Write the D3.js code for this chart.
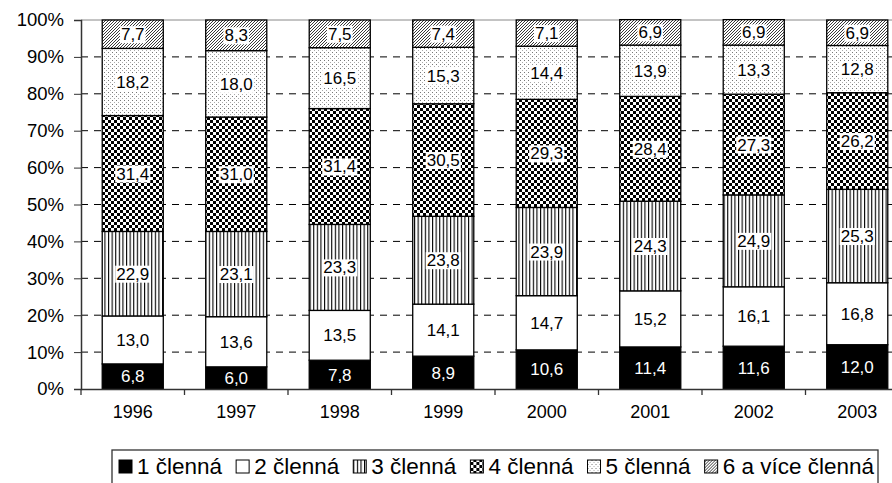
<!DOCTYPE html>
<html>
<head>
<meta charset="utf-8">
<script src="https://cdn.jsdelivr.net/npm/d3@7"></script>
<style>
body{margin:0;background:#fff;}
text{font-family:"Liberation Sans",Arial,sans-serif;}
</style>
</head>
<body>
<div id="chart"></div>
<script>
var years = ["1996","1997","1998","1999","2000","2001","2002","2003"];
var s1 = [6.8,6.0,7.8,8.9,10.6,11.4,11.6,12.0];
var s2 = [13.0,13.6,13.5,14.1,14.7,15.2,16.1,16.8];
var s3 = [22.9,23.1,23.3,23.8,23.9,24.3,24.9,25.3];
var s4 = [31.4,31.0,31.4,30.5,29.3,28.4,27.3,26.2];
var s5 = [18.2,18.0,16.5,15.3,14.4,13.9,13.3,12.8];
var s6 = [7.7,8.3,7.5,7.4,7.1,6.9,6.9,6.9];
var seriesNames = ["1 členná","2 členná","3 členná","4 členná","5 členná","6 a více členná"];
var yTicks = [0,10,20,30,40,50,60,70,80,90,100];

var series = [s1,s2,s3,s4,s5,s6];
var keys = ["k0","k1","k2","k3","k4","k5"];
var rows = years.map(function(y,i){
  var r = {year:y};
  series.forEach(function(s,j){ r[keys[j]] = s[i]; });
  return r;
});

var W = 892, H = 483;
var svg = d3.select("#chart").append("svg").attr("width",W).attr("height",H);

// patterns
var defs = svg.append("defs");
var p3 = defs.append("pattern").attr("id","pat3").attr("patternUnits","userSpaceOnUse").attr("width",3.6).attr("height",4);
p3.append("rect").attr("width",3.6).attr("height",4).attr("fill","#fff");
p3.append("rect").attr("x",0).attr("width",1.1).attr("height",4).attr("fill","#000");

var p4 = defs.append("pattern").attr("id","pat4").attr("patternUnits","userSpaceOnUse").attr("width",6).attr("height",6);
p4.append("rect").attr("width",6).attr("height",6).attr("fill","#fff");
p4.append("rect").attr("width",3).attr("height",3).attr("fill","#000");
p4.append("rect").attr("x",3).attr("y",3).attr("width",3).attr("height",3).attr("fill","#000");

var p5 = defs.append("pattern").attr("id","pat5").attr("patternUnits","userSpaceOnUse").attr("width",4).attr("height",4);
p5.append("rect").attr("width",4).attr("height",4).attr("fill","#fff");
p5.append("rect").attr("x",0).attr("y",0).attr("width",1).attr("height",1).attr("fill","#777");
p5.append("rect").attr("x",2).attr("y",2).attr("width",1).attr("height",1).attr("fill","#aaa");

var p6 = defs.append("pattern").attr("id","pat6").attr("patternUnits","userSpaceOnUse").attr("width",3).attr("height",3);
p6.append("rect").attr("width",3).attr("height",3).attr("fill","#fff");
p6.append("path").attr("d","M-1,1 L1,-1 M0,3 L3,0 M2,4 L4,2").attr("stroke","#222").attr("stroke-width",0.9);

var fills = ["#000","#fff","url(#pat3)","url(#pat4)","url(#pat5)","url(#pat6)"];

var x = d3.scaleBand().domain(years).range([81, 81+8*103.5]).paddingInner(0.41).paddingOuter(0.205);
var y = d3.scaleLinear().domain([0,100]).range([389,20]);

// gridlines
svg.selectAll(".grid").data(yTicks.filter(function(d){return d>0 && d<100;}))
  .enter().append("line").attr("class","grid")
  .attr("x1",81).attr("x2",W).attr("y1",function(d){return y(d);}).attr("y2",function(d){return y(d);})
  .attr("stroke","#000").attr("stroke-width",1).attr("stroke-dasharray","7,6");
svg.append("line").attr("x1",81).attr("x2",W).attr("y1",y(100)).attr("y2",y(100))
  .attr("stroke","#888").attr("stroke-width",1);

var stack = d3.stack().keys(keys);
var stacked = stack(rows);

var fmt = function(v){ return d3.format(".1f")(v).replace(".",","); };

var layers = svg.selectAll(".layer").data(stacked).enter().append("g").attr("class","layer");
layers.selectAll("rect").data(function(d){ return d; }).enter().append("rect")
  .attr("x",function(d){ return x(d.data.year); })
  .attr("width",x.bandwidth())
  .attr("y",function(d){ return y(d[1]); })
  .attr("height",function(d){ return y(d[0]) - y(d[1]); })
  .attr("fill",function(d){ return fills[d3.select(this.parentNode).datum().index]; })
  .attr("stroke","#000").attr("stroke-width",1.3);

// labels
stacked.forEach(function(layer,li){
  layer.forEach(function(d){
    var cx = x(d.data.year) + x.bandwidth()/2;
    var cy = (y(d[0]) + y(d[1]))/2;
    var g = svg.append("g");
    var t = g.append("text").attr("x",cx).attr("y",cy+6).attr("text-anchor","middle")
      .attr("font-size",17).attr("fill", li===0 ? "#fff" : "#000").text(fmt(d[1]-d[0]));
    if(li>=2){
      var bb = t.node().getBBox();
      g.insert("rect","text").attr("x",bb.x-1).attr("y",bb.y+1).attr("width",bb.width+2).attr("height",bb.height-2).attr("fill","#fff");
    }
  });
});

// axes
var yAxis = d3.axisLeft(y).tickValues(yTicks).tickSize(7).tickFormat(function(d){return d+"%";});
var gy = svg.append("g").attr("transform","translate(81,0)").call(yAxis);
gy.select(".domain").attr("stroke","#333").attr("stroke-width",1.5);
gy.selectAll(".tick line").attr("stroke","#333");
gy.selectAll(".tick text").attr("font-size",18.5).attr("fill","#000").attr("x",-17).attr("font-family","Liberation Sans, Arial, sans-serif");

var xAxis = d3.axisBottom(x).tickSize(0);
var gx = svg.append("g").attr("transform","translate(0,389)").call(xAxis);
gx.select(".domain").attr("stroke","#333").attr("stroke-width",1.5);
gx.selectAll(".tick text").attr("font-size",18).attr("fill","#000").attr("dy","1.45em").attr("font-family","Liberation Sans, Arial, sans-serif");
// band boundary ticks
svg.selectAll(".bt").data(years).enter().append("line").attr("class","bt")
  .attr("x1",function(d){ return x(d) - x.step()*x.paddingInner()/2; })
  .attr("x2",function(d){ return x(d) - x.step()*x.paddingInner()/2; })
  .attr("y1",389).attr("y2",395).attr("stroke","#333").attr("stroke-width",1.3);

// legend
var lg = svg.append("g");
lg.append("rect").attr("x",112).attr("y",450).attr("width",766).attr("height",40)
  .attr("fill","#fff").attr("stroke","#333").attr("stroke-width",1.3);
var items = lg.selectAll(".li").data(seriesNames).enter().append("g").attr("class","li");
items.append("rect").attr("y",460).attr("width",13).attr("height",13)
  .attr("fill",function(d,i){ return fills[i]; }).attr("stroke","#000").attr("stroke-width",1);
items.append("text").attr("x",18).attr("y",474).attr("font-size",22.5).attr("fill","#000").text(function(d){ return d; });
// spread items between 119 and 874
var widths = [];
items.each(function(){ widths.push(18 + d3.select(this).select("text").node().getComputedTextLength()); });
var gap = (874 - 119 - d3.sum(widths)) / (widths.length - 1);
var cur = 119;
items.each(function(d,i){
  d3.select(this).attr("transform","translate(" + cur + ",0)");
  cur += widths[i] + gap;
});
</script>
</body>
</html>
